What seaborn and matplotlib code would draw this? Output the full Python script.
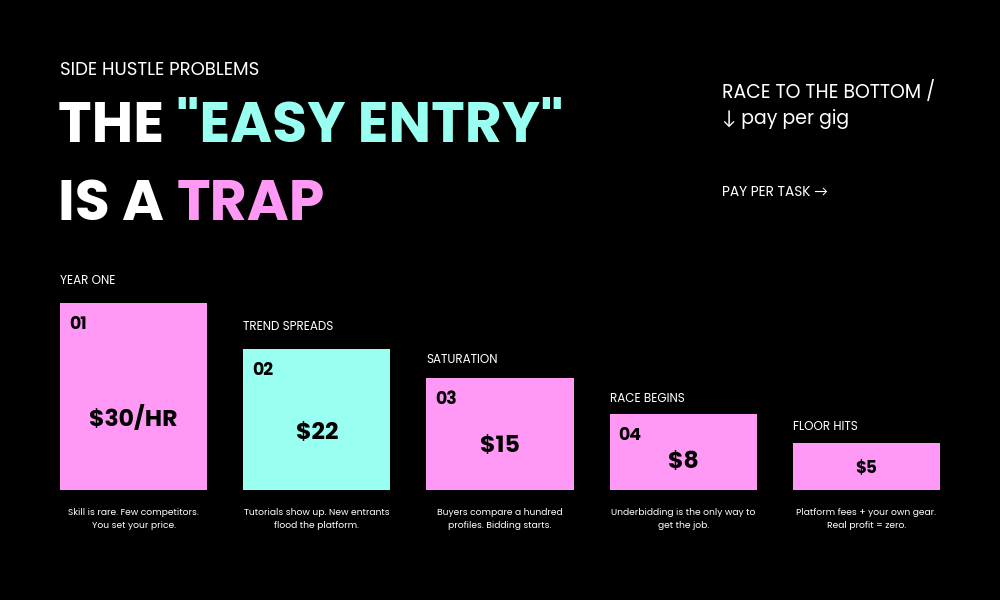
import matplotlib
matplotlib.use("Agg")
import matplotlib.pyplot as plt
import seaborn as sns
import pandas as pd

categories = ["01", "02", "03", "04", "05"]
stage_labels = ["YEAR ONE", "TREND SPREADS", "SATURATION", "RACE BEGINS", "FLOOR HITS"]
price_labels = ["$30/HR", "$22", "$15", "$8", "$5"]
relative_height = [100, 75.4, 59.9, 40.6, 25.1]
descriptions = ["Skill is rare. Few competitors.\nYou set your price.",
                "Tutorials show up. New entrants\nflood the platform.",
                "Buyers compare a hundred\nprofiles. Bidding starts.",
                "Underbidding is the only way to\nget the job.",
                "Platform fees + your own gear.\nReal profit = zero."]
show_number = [True, True, True, True, False]

PINK = "#FF99F5"
CYAN = "#99FFF0"
colors = [PINK, CYAN, PINK, PINK, PINK]

sns.set_theme(style="white")
plt.rcParams['font.family'] = ['Poppins', 'Lato', 'DejaVu Sans']

fig = plt.figure(figsize=(10, 6), dpi=100, facecolor="black")

df = pd.DataFrame({"cat": categories, "h": relative_height})
ax = fig.add_axes([0.06, 110/600, 0.88, 187/600])
ax.set_facecolor("black")
sns.barplot(data=df, x="cat", y="h", hue="cat", palette=colors, legend=False,
            width=0.803, ax=ax, saturation=1, linewidth=0, edgecolor="none")
ax.set_xlim(-0.4015, 4.4015)
ax.set_ylim(0, 100)
ax.axis("off")

bw = 0.803
price_fs = [17, 17, 17, 17, 12]
price_pos = [0.38, 0.40, 0.39, 0.36, 0.45]
label_off = [22, 22, 18, 15, 16]
for i, (h, lab, pr, d) in enumerate(zip(relative_height, stage_labels, price_labels, descriptions)):
    left = i - bw/2
    if show_number[i]:
        ax.annotate(categories[i], (left, h), xytext=(9, -22), textcoords="offset pixels",
                    fontsize=12.5, fontweight="bold", color="black", ha="left", va="center")
    ax.annotate(lab, (left, h), xytext=(0, label_off[i]), textcoords="offset pixels",
                fontsize=8.6, color="white", ha="left", va="center")
    ax.text(i, price_pos[i]*h, pr, fontsize=price_fs[i], fontweight="bold", color="black", ha="center", va="center")
    ax.annotate(d, (i, 0), xytext=(0, -29), textcoords="offset pixels",
                fontsize=6.6, color="white", ha="center", va="center", linespacing=1.5)

fig.text(0.06, 1 - 71/600, "SIDE HUSTLE PROBLEMS", fontsize=13, color="white", va="center")

def colored_line(parts, x, y, fs):
    r = fig.canvas.get_renderer()
    for txt, col in parts:
        t = fig.text(x, y, txt, fontsize=fs, fontweight="bold", color=col, va="center")
        bb = t.get_window_extent(renderer=r)
        x += bb.width / fig.bbox.width

colored_line([("THE ", "white"), ('"EASY ENTRY"', CYAN)], 0.058, 1 - 128/600, 41)
colored_line([("IS A ", "white"), ("TRAP", PINK)], 0.058, 1 - 207/600, 41)

fig.text(0.722, 1 - 92/600, "RACE TO THE BOTTOM /", fontsize=13.6, color="white", va="center")
fig.text(0.722, 1 - 119/600, "↓ pay per gig", fontsize=13.6, color="white", va="center")
fig.text(0.722, 1 - 193/600, "PAY PER TASK →", fontsize=9.9, color="white", va="center")

fig.savefig("out.png", dpi=100, facecolor="black")
